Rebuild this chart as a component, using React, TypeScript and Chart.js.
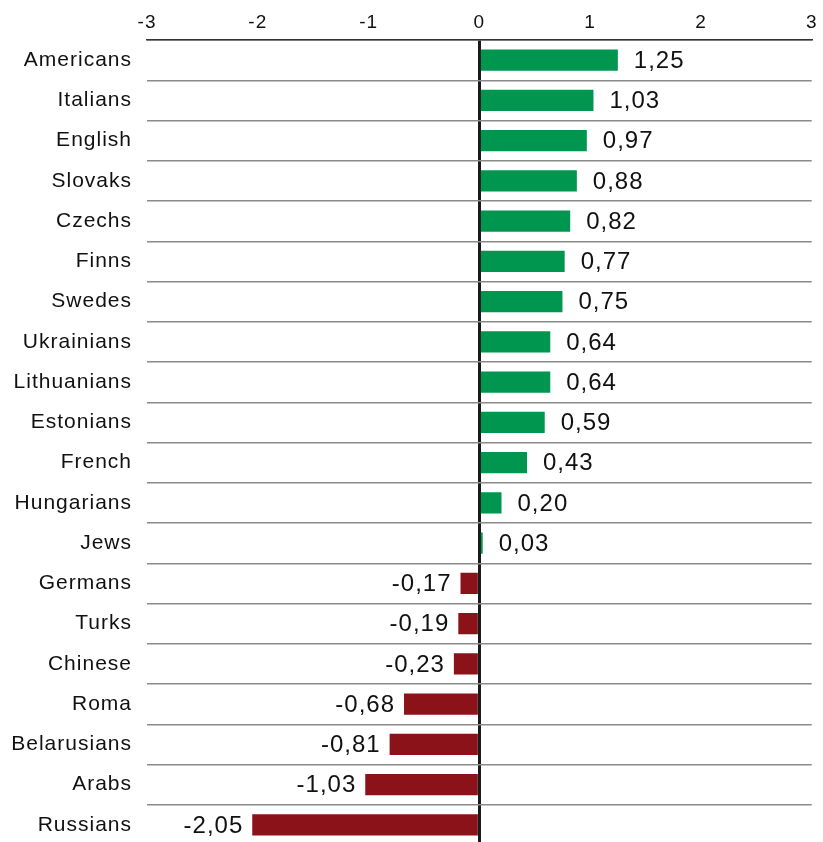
import { useEffect, useRef } from "react"
import { Chart, registerables } from "chart.js"

Chart.register(...registerables)

const groups = [
  "Americans", "Italians", "English", "Slovaks", "Czechs", "Finns", "Swedes",
  "Ukrainians", "Lithuanians", "Estonians", "French", "Hungarians", "Jews",
  "Germans", "Turks", "Chinese", "Roma", "Belarusians", "Arabs", "Russians",
]
const scores = [
  1.25, 1.03, 0.97, 0.88, 0.82, 0.77, 0.75, 0.64, 0.64, 0.59, 0.43, 0.2, 0.03,
  -0.17, -0.19, -0.23, -0.68, -0.81, -1.03, -2.05,
]
const xTicks = [-3, -2, -1, 0, 1, 2, 3]

const green = "#00964f"
const red = "#8c121a"
const fontFamily = "'Liberation Sans', Arial, sans-serif"

// slightly wider letter spacing for all text, like the original export
const spacing = {
  id: "spacing",
  beforeDraw(chart: any) {
    try { chart.ctx.letterSpacing = "1px" } catch (e) {}
  },
}

// value labels next to each bar, decimal comma
const valueLabels = {
  id: "valueLabels",
  afterDatasetsDraw(chart: any) {
    const ctx = chart.ctx
    const meta = chart.getDatasetMeta(0)
    ctx.save()
    ctx.font = `24px ${fontFamily}`
    ctx.fillStyle = "#111"
    ctx.textBaseline = "middle"
    try { ctx.letterSpacing = "1px" } catch (e) {}
    meta.data.forEach((bar: any, i: number) => {
      const v = scores[i]
      const txt = v.toFixed(2).replace(".", ",")
      if (v >= 0) {
        ctx.textAlign = "left"
        ctx.fillText(txt, bar.x + 16, bar.y + 1)
      } else {
        ctx.textAlign = "right"
        ctx.fillText(txt, bar.x - 9, bar.y + 1)
      }
    })
    ctx.restore()
  },
}

export default function App() {
  const chartRef = useRef<HTMLCanvasElement>(null)
  const chartInstance = useRef<Chart | null>(null)

  useEffect(() => {
    document.body.style.overflow = "hidden"
    if (!chartRef.current) return
    if (chartInstance.current) chartInstance.current.destroy()
    const ctx = chartRef.current.getContext("2d")
    if (!ctx) return

    chartInstance.current = new Chart(ctx, {
      type: "bar",
      data: {
        labels: groups,
        datasets: [
          {
            data: scores,
            backgroundColor: scores.map((v) => (v >= 0 ? green : red)),
            borderWidth: 0,
            barPercentage: 0.53,
            categoryPercentage: 1,
          },
        ],
      },
      options: {
        indexAxis: "y",
        animation: false,
        responsive: false,
        layout: { padding: { top: 0, left: 0, right: 9, bottom: 5 } },
        plugins: {
          legend: { display: false },
          tooltip: { enabled: false },
        },
        scales: {
          x: {
            position: "top",
            min: -3,
            max: 3,
            afterBuildTicks: (scale: any) => {
              scale.ticks = xTicks.map((value) => ({ value }))
            },
            afterFit: (scale: any) => {
              scale.height = 40
            },
            grid: {
              drawTicks: false,
              color: (c: any) => (c.tick && c.tick.value === 0 ? "#1a1a1a" : "rgba(0,0,0,0)"),
              lineWidth: 3,
            },
            border: { display: true, color: "#333", width: 1.5 },
            ticks: {
              padding: 6,
              color: "#111",
              font: { family: fontFamily, size: 19 },
              callback: (v: any) => String(v),
            },
          },
          y: {
            afterFit: (scale: any) => {
              scale.width = 147
              scale.paddingTop = 0
              scale.paddingBottom = 0
            },
            grid: {
              offset: true,
              drawTicks: false,
              color: "#8a8a8a",
              lineWidth: 1.5,
            },
            border: { display: false },
            ticks: {
              padding: 15,
              color: "#111",
              font: { family: fontFamily, size: 21 },
            },
          },
        },
      },
      plugins: [spacing, valueLabels],
    })

    return () => {
      if (chartInstance.current) {
        chartInstance.current.destroy()
        chartInstance.current = null
      }
    }
  }, [])

  return (
    <div style={{ position: "fixed", top: 0, left: 0, width: 823, height: 850 }}>
      <canvas ref={chartRef} width={823} height={850} style={{ width: 823, height: 850 }}></canvas>
    </div>
  )
}
